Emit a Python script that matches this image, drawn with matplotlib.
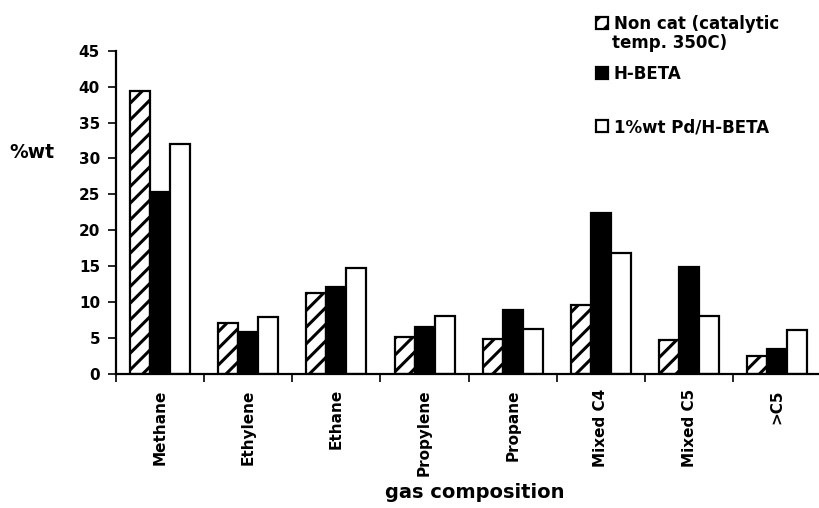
import matplotlib
matplotlib.use("Agg")
import matplotlib.pyplot as plt
import numpy as np

categories = ["Methane", "Ethylene", "Ethane", "Propylene", "Propane",
              "Mixed C4", "Mixed C5", ">C5"]
non_cat = [39.4, 7.05, 11.2, 5.15, 4.9, 9.6, 4.7, 2.5]
h_beta = [25.4, 5.9, 12.1, 6.6, 8.9, 22.4, 14.9, 3.4]
pd_h_beta = [32.0, 7.9, 14.7, 8.1, 6.3, 16.9, 8.0, 6.1]
series_labels = ["Non cat (catalytic", "H-BETA", "1%wt Pd/H-BETA"]
label_cont = "temp. 350C)"
yticks = [0, 5, 10, 15, 20, 25, 30, 35, 40, 45]

plt.rcParams['font.family'] = ['DejaVu Sans']
plt.rcParams['font.weight'] = 'bold'
plt.rcParams['hatch.linewidth'] = 2.2

fig = plt.figure(figsize=(8.2, 5.08), dpi=100)
ax = fig.add_axes([0.1415, 0.264, 0.86, 0.636])

x = np.arange(len(categories))
w = 0.227
b1 = ax.bar(x - w, non_cat, w, color='white', edgecolor='black', hatch='//', linewidth=1.6)
b2 = ax.bar(x, h_beta, w, color='black', edgecolor='black', linewidth=1.6)
b3 = ax.bar(x + w, pd_h_beta, w, color='white', edgecolor='black', linewidth=1.6)

ax.set_xlim(-0.5, len(categories) - 0.5)
ax.set_ylim(0, 45)
ax.set_yticks(yticks)
ax.set_yticklabels([str(v) for v in yticks], fontsize=11, fontweight='bold')
ax.set_xticks(x)
ax.set_xticklabels(categories, rotation=90, fontsize=11, fontweight='bold')
ax.tick_params(axis='x', which='major', length=0, pad=11)
ax.set_xticks(np.arange(len(categories) + 1) - 0.5, minor=True)
ax.tick_params(axis='x', which='minor', length=6, width=1.2, direction='out')
ax.tick_params(axis='y', length=5.5, width=1.2, direction='out', pad=6)
for s in ['top', 'right']:
    ax.spines[s].set_visible(False)
for s in ['left', 'bottom']:
    ax.spines[s].set_linewidth(1.6)

fig.text(475 / 820, 1 - 492 / 508, "gas composition", fontsize=14,
         fontweight='bold', ha='center', va='center')
fig.text(0.012, 0.70, "%wt", fontsize=13.5, fontweight='bold', ha='left', va='center')

prop = {'weight': 'bold', 'size': 12}
common = dict(loc='center left', frameon=False, prop=prop, handlelength=0.7,
              handleheight=0.7, handletextpad=0.35, borderpad=0, borderaxespad=0)
fig.legend([b1], [series_labels[0]], bbox_to_anchor=(0.727, 1 - 24 / 508), **common)
fig.text(0.7465, 1 - 43 / 508, label_cont, fontsize=12, fontweight='bold',
         ha='left', va='center')
fig.legend([b2], [series_labels[1]], bbox_to_anchor=(0.727, 1 - 74 / 508), **common)
fig.legend([b3], [series_labels[2]], bbox_to_anchor=(0.727, 1 - 127 / 508), **common)

fig.savefig("out.png", dpi=100)
